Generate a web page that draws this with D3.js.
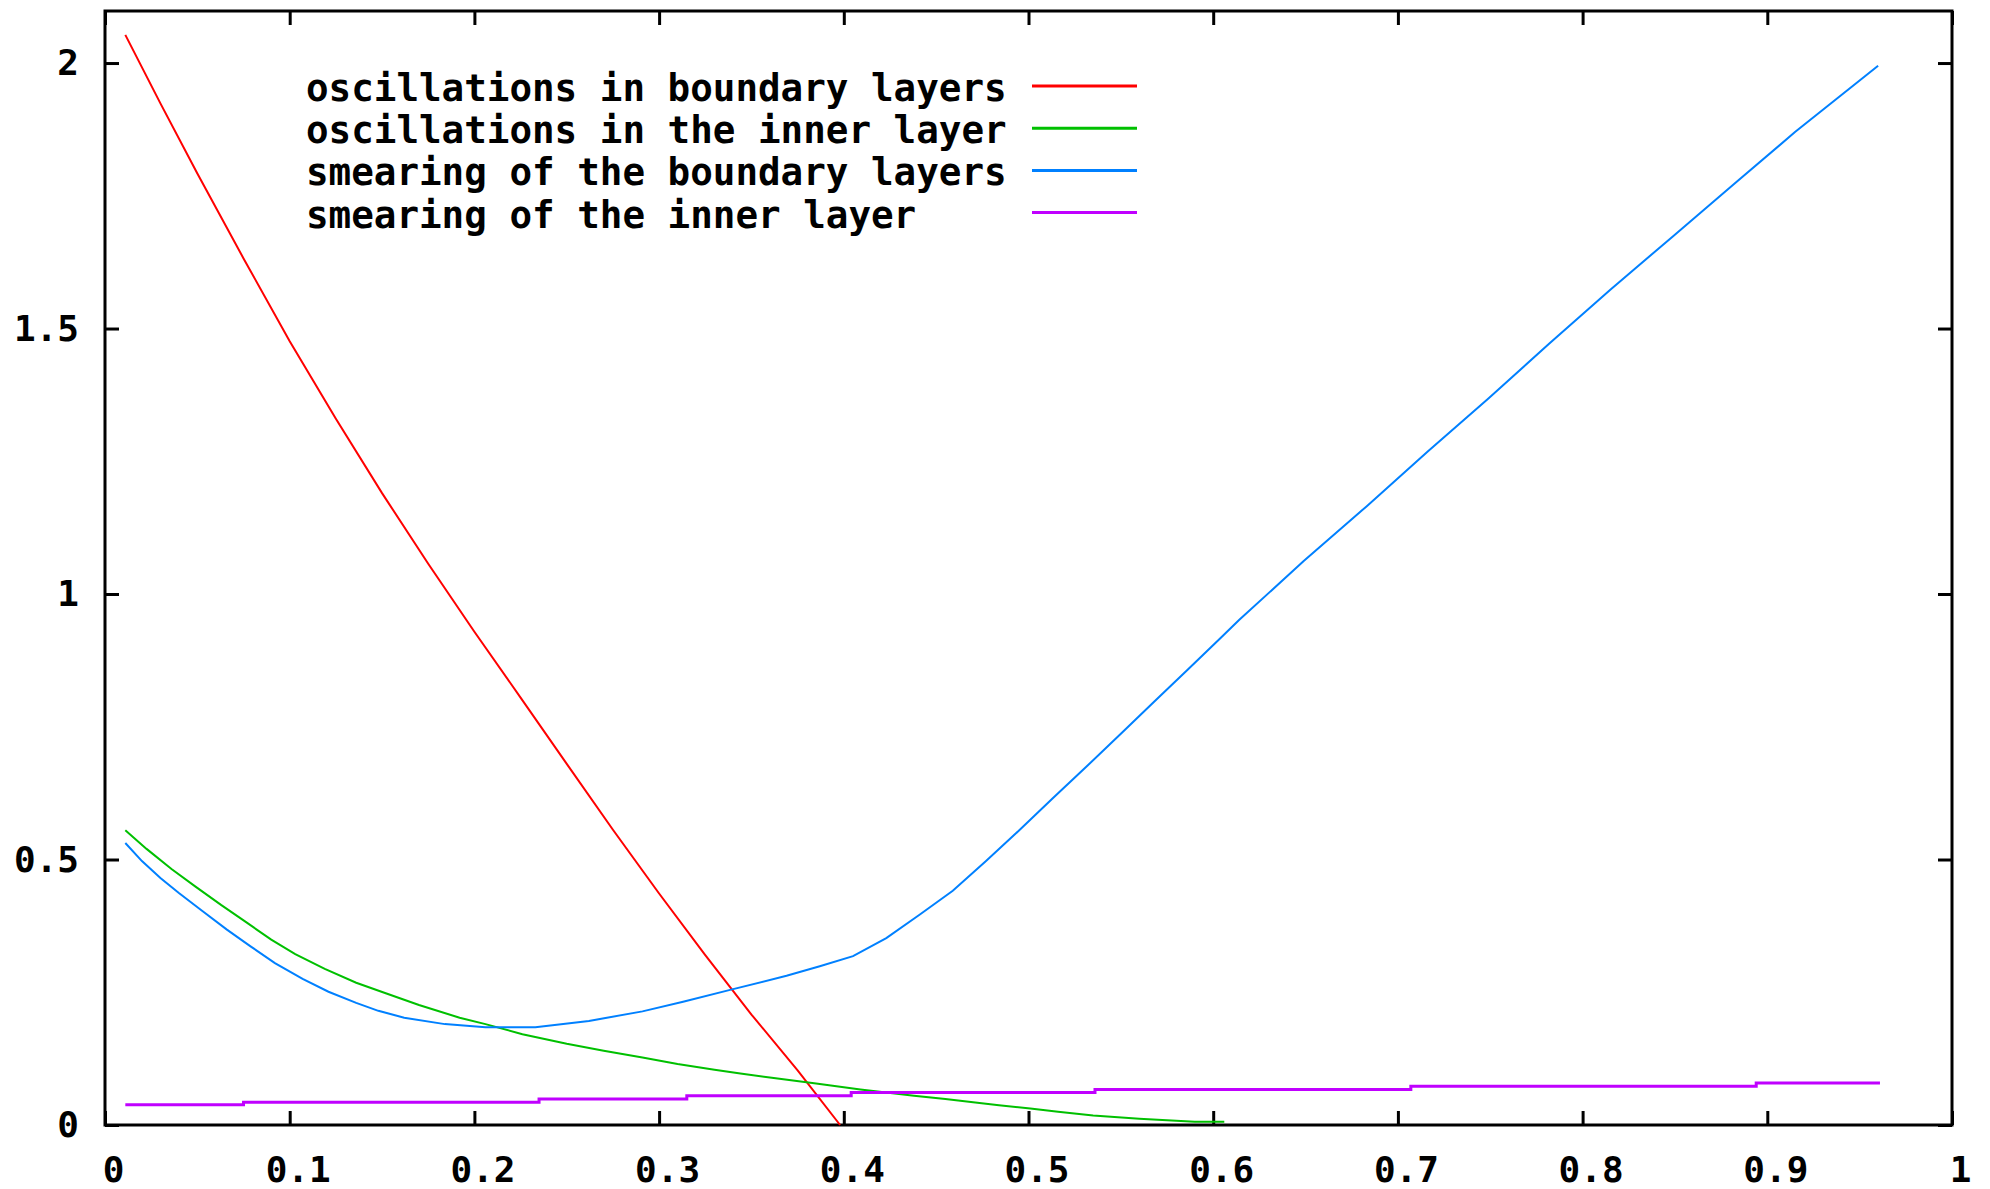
<!DOCTYPE html>
<html>
<head>
<meta charset="utf-8">
<script src="https://cdn.jsdelivr.net/npm/d3@7"></script>
<style>
	body { margin: 0; background: #fff; }
	svg { display: block; }
	.tickText { font-family: 'DejaVu Sans Mono', monospace; font-weight: bold; font-size: 36px; fill: #000; }
	.keyText { font-family: 'DejaVu Sans Mono', monospace; font-weight: bold; font-size: 37px; fill: #000; }
</style>
</head>
<body>
<div id="chart"></div>
<script>
/* DATA */
const xTicks = [ 0, 0.1, 0.2, 0.3, 0.4, 0.5, 0.6, 0.7, 0.8, 0.9, 1 ];
const yTicks = [ 0, 0.5, 1, 1.5, 2 ];

const seriesNames = [
	'oscillations in boundary layers',
	'oscillations in the inner layer',
	'smearing of the boundary layers',
	'smearing of the inner layer'
];

// [x, y]
const redPoints = [
	[ 0.011, 2.053 ], [ 0.03, 1.924 ], [ 0.05, 1.792 ], [ 0.075, 1.632 ], [ 0.1, 1.476 ],
	[ 0.125, 1.33 ], [ 0.15, 1.19 ], [ 0.175, 1.057 ], [ 0.2, 0.929 ], [ 0.225, 0.805 ],
	[ 0.25, 0.68 ], [ 0.275, 0.556 ], [ 0.3, 0.436 ], [ 0.325, 0.32 ], [ 0.35, 0.208 ],
	[ 0.375, 0.103 ], [ 0.398, 0 ]
];

const greenPoints = [
	[ 0.011, 0.555 ], [ 0.0225, 0.52 ], [ 0.036, 0.482 ], [ 0.049, 0.449 ], [ 0.063, 0.414 ],
	[ 0.076, 0.383 ], [ 0.09, 0.349 ], [ 0.103, 0.322 ], [ 0.119, 0.294 ], [ 0.136, 0.268 ],
	[ 0.152, 0.248 ], [ 0.17, 0.226 ], [ 0.192, 0.202 ], [ 0.206, 0.19 ], [ 0.226, 0.171 ],
	[ 0.25, 0.153 ], [ 0.27, 0.14 ], [ 0.291, 0.127 ], [ 0.31, 0.115 ], [ 0.33, 0.104 ],
	[ 0.344, 0.097 ], [ 0.361, 0.089 ], [ 0.385, 0.078 ], [ 0.409, 0.067 ], [ 0.438, 0.055 ],
	[ 0.455, 0.049 ], [ 0.47, 0.043 ], [ 0.484, 0.037 ], [ 0.501, 0.031 ], [ 0.516, 0.025 ],
	[ 0.535, 0.018 ], [ 0.56, 0.012 ], [ 0.59, 0.006 ], [ 0.606, 0.006 ]
];

const bluePoints = [
	[ 0.011, 0.531 ], [ 0.02, 0.497 ], [ 0.03, 0.465 ], [ 0.04, 0.437 ], [ 0.052, 0.405 ],
	[ 0.066, 0.368 ], [ 0.079, 0.336 ], [ 0.092, 0.305 ], [ 0.107, 0.275 ], [ 0.121, 0.251 ],
	[ 0.136, 0.23 ], [ 0.148, 0.215 ], [ 0.162, 0.202 ], [ 0.184, 0.19 ], [ 0.206, 0.184 ],
	[ 0.233, 0.184 ], [ 0.262, 0.196 ], [ 0.291, 0.214 ], [ 0.313, 0.232 ], [ 0.339, 0.255 ],
	[ 0.369, 0.281 ], [ 0.387, 0.299 ], [ 0.405, 0.318 ], [ 0.423, 0.352 ], [ 0.441, 0.396 ],
	[ 0.459, 0.441 ], [ 0.477, 0.497 ], [ 0.495, 0.555 ], [ 0.513, 0.615 ], [ 0.532, 0.677 ],
	[ 0.55, 0.737 ], [ 0.568, 0.797 ], [ 0.586, 0.857 ], [ 0.604, 0.917 ], [ 0.614, 0.951 ],
	[ 0.649, 1.062 ], [ 0.683, 1.165 ], [ 0.716, 1.268 ], [ 0.749, 1.368 ], [ 0.782, 1.472 ],
	[ 0.815, 1.573 ], [ 0.849, 1.674 ], [ 0.882, 1.772 ], [ 0.915, 1.87 ], [ 0.96, 1.995 ]
];

// the inner layer smearing is drawn in small steps
const purplePoints = [
	[ 0.011, 0.038 ], [ 0.075, 0.043 ], [ 0.235, 0.049 ], [ 0.315, 0.055 ], [ 0.404, 0.061 ],
	[ 0.536, 0.067 ], [ 0.707, 0.073 ], [ 0.894, 0.079 ], [ 0.961, 0.079 ]
];

const seriesColors = [ '#ff0000', '#00c000', '#0080ff', '#c000ff' ];

/* SETUP */
const width = 1990;
const height = 1189;
const margin = { top: 11, left: 105, right: 38, bottom: 64 };
const plotWidth = width - margin.left - margin.right;
const plotHeight = height - margin.top - margin.bottom;
const TICK = 14;

const svg = d3.select('#chart').append('svg').attr('width', width).attr('height', height);

const xScale = d3.scaleLinear().domain([ 0, 1 ]).range([ 0, plotWidth ]);
const yScale = d3.scaleLinear().domain([ 0, 2.098 ]).range([ plotHeight, 0 ]);

const plot = svg.append('g').attr('transform', `translate(${margin.left}, ${margin.top})`);

/* AXES (gnuplot style, ticks inward on all four sides) */
function styleAxis(g) {
	g.select('.domain').remove();
	g.selectAll('.tick line').attr('stroke', '#000').attr('stroke-width', 3);
	g.selectAll('.tick text').attr('class', 'tickText');
}

plot
	.append('g')
	.attr('transform', `translate(0, ${plotHeight})`)
	.call(d3.axisBottom(xScale).tickValues(xTicks).tickSize(-TICK).tickPadding(31).tickFormat(d3.format('')))
	.call(styleAxis)
	.selectAll('text')
	.attr('dx', 8);

plot
	.append('g')
	.call(d3.axisTop(xScale).tickValues(xTicks).tickSize(-TICK).tickFormat(''))
	.call(styleAxis);

plot
	.append('g')
	.call(d3.axisLeft(yScale).tickValues(yTicks).tickSize(-TICK).tickPadding(26).tickFormat(d3.format('')))
	.call(styleAxis);

plot
	.append('g')
	.attr('transform', `translate(${plotWidth}, 0)`)
	.call(d3.axisRight(yScale).tickValues(yTicks).tickSize(-TICK).tickFormat(''))
	.call(styleAxis);

// frame
plot
	.append('rect')
	.attr('x', 0)
	.attr('y', 0)
	.attr('width', plotWidth)
	.attr('height', plotHeight)
	.attr('fill', 'none')
	.attr('stroke', '#000')
	.attr('stroke-width', 3);

/* LINES */
const line = d3.line().x((d) => xScale(d[0])).y((d) => yScale(d[1]));
const stepLine = d3.line().x((d) => xScale(d[0])).y((d) => yScale(d[1])).curve(d3.curveStepAfter);

const allSeries = [ redPoints, greenPoints, bluePoints, purplePoints ];

allSeries.forEach(function(pts, i) {
	plot
		.append('path')
		.attr('d', i === 3 ? stepLine(pts) : line(pts))
		.attr('fill', 'none')
		.attr('stroke', seriesColors[i])
		.attr('stroke-width', i === 3 ? 3 : 2);
});

/* KEY */
const key = svg.append('g').attr('class', 'key');
const keyTop = 86;
const keyGap = 42.2;

seriesNames.forEach(function(name, i) {
	const yPos = keyTop + i * keyGap;
	key
		.append('text')
		.attr('class', 'keyText')
		.attr('x', 306)
		.attr('y', yPos + 15)
		.attr('textLength', name.length * 22.6)
		.attr('lengthAdjust', 'spacingAndGlyphs')
		.text(name);
	key
		.append('line')
		.attr('x1', 1032)
		.attr('x2', 1137)
		.attr('y1', yPos)
		.attr('y2', yPos)
		.attr('stroke', seriesColors[i])
		.attr('stroke-width', 3);
});
</script>
</body>
</html>
